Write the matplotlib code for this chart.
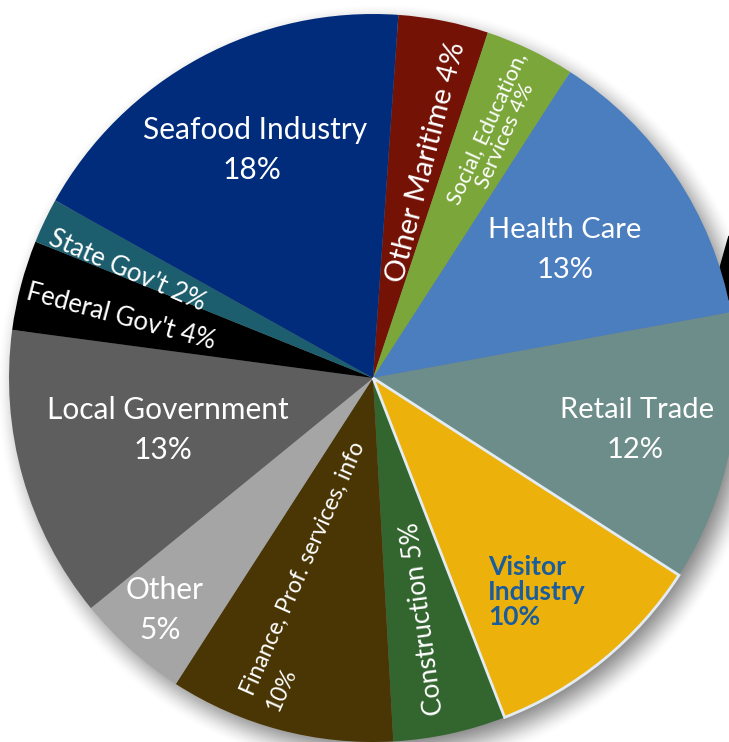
import numpy as np
import matplotlib
matplotlib.use("Agg")
import matplotlib.pyplot as plt
from matplotlib.patches import Polygon

plt.rcParams["font.family"] = ["Lato", "DejaVu Sans"]

# employment share by sector, clockwise from the top
sectors = ["Other Maritime", "Social, Education, Services", "Health Care",
           "Retail Trade", "Visitor Industry", "Construction",
           "Finance, Prof. services, info", "Other", "Local Government",
           "Federal Gov't", "State Gov't", "Seafood Industry"]
shares = [4, 4, 13, 12, 10, 5, 10, 5, 13, 4, 2, 18]
colors = ["#741206", "#7aa63a", "#4b7ebe", "#6c8d89", "#edb10c", "#33652f",
          "#4a3604", "#a5a5a5", "#5e5e5e", "#000000", "#1d5e6e", "#002c7b"]

W, H = 729, 742
cx, cy, r = 373, H - 378, 364

fig = plt.figure(figsize=(W / 100, H / 100), dpi=100)
ax = fig.add_axes([0, 0, 1, 1])
ax.set_xlim(0, W)
ax.set_ylim(0, H)
ax.set_aspect("equal")
ax.axis("off")

# dark shape peeking out behind the right edge
ax.add_patch(Polygon([(729, H - 236), (720, H - 268), (726, H - 300), (729, H - 300)],
                     closed=True, color="black", zorder=0))

# soft drop shadow under the pie
yy, xx = np.mgrid[0:H, 0:W]
d = np.hypot(xx - (cx + 8), (H - yy) - (cy - 10))
t = np.clip((r + 22 - d) / 44, 0, 1)
alpha = 0.5 * t * t * (3 - 2 * t)
shadow = np.zeros((H, W, 4))
shadow[..., 3] = alpha
ax.imshow(shadow, extent=(0, W, 0, H), origin="upper", zorder=1)

wedges, _ = ax.pie(shares, colors=colors, center=(cx, cy), radius=r,
                   startangle=86, counterclock=False,
                   wedgeprops=dict(linewidth=0))
for w in wedges:
    w.set_zorder(2)
vis = wedges[sectors.index("Visitor Industry")]
vis.set_edgecolor("#e3ebf3")
vis.set_linewidth(2)
vis.set_zorder(3)
ax.set_xlim(0, W)
ax.set_ylim(0, H)


def label(x, y, s, size=21.5, rot=0, **kw):
    ax.text(x, H - y, s, color="white", fontsize=size, rotation=rot,
            ha=kw.pop("ha", "center"), va="center", rotation_mode="anchor",
            linespacing=1.0, zorder=5, **kw)


label(255, 130, "Seafood Industry")
label(252, 170, "18%")
label(565, 230, "Health Care", size=21)
label(565, 270, "13%", size=21)
label(637, 410, "Retail Trade", size=21)
label(635, 450, "12%", size=21)
label(168, 410, "Local Government")
label(163, 450, "13%")
label(165, 590, "Other")
label(160, 630, "5%")
label(426, 162, "Other Maritime 4%", size=21, rot=75.5)
label(496, 132, "Social, Education,\nServices 4%", size=15.5, rot=65.5,
      multialignment="center")
label(127, 271, "State Gov't 2%", size=18.5, rot=-23.5)
label(121, 317, "Federal Gov't 4%", size=18.5, rot=-15)
label(423, 619, "Construction 5%", size=19, rot=97.5)
label(303, 568, "Finance, Prof. services, info", size=16.5, rot=66)
label(281, 690, "10%", size=16.5, rot=66)

ax.text(488, H - 592, "Visitor\nIndustry\n10%", color="#1a5c9c", fontsize=19,
        fontweight="bold", ha="left", va="center", linespacing=1.05, zorder=5)

fig.savefig("out.png", dpi=100)
